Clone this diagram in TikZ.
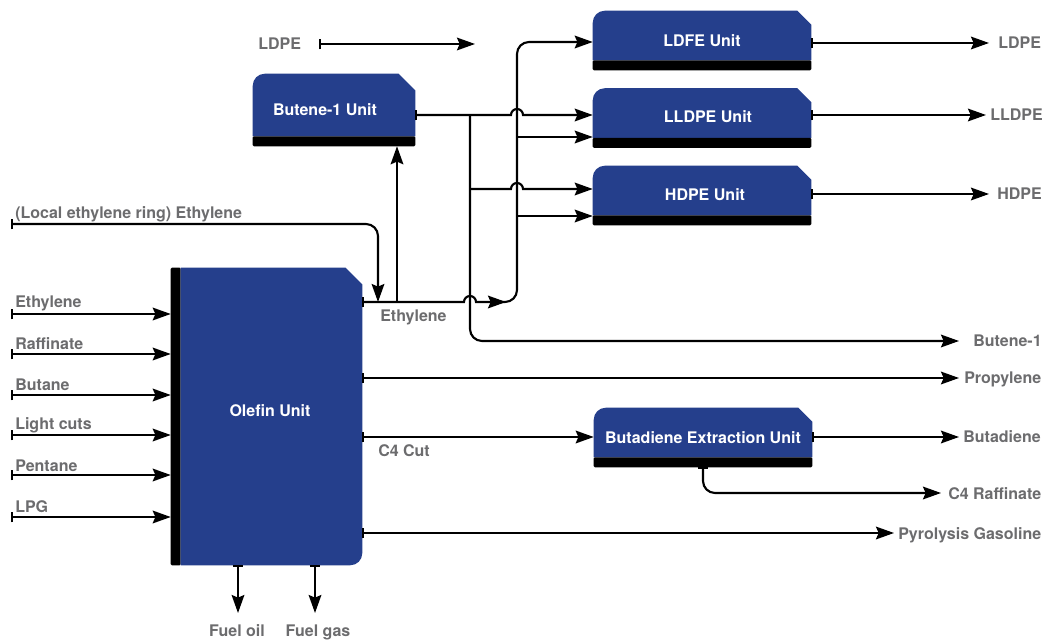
\documentclass[tikz,border=0pt]{standalone}
\usepackage{fontspec}
\setmainfont{TeX Gyre Heros}
\usetikzlibrary{arrows.meta,calc}
\pgfdeclarelayer{background}
\pgfsetlayers{background,main}
\definecolor{unitblue}{RGB}{37,63,140}
\definecolor{lblgray}{RGB}{108,108,110}
\newcommand\unitshape[3]{% name, cut, radius
  \fill[unitblue] ($(#1.south west)+(0pt,7.5pt)$) -- ($(#1.north west)+(0pt,-#3)$)
    arc[start angle=180,end angle=90,radius=#3]
    -- ($(#1.north east)+(-#2,0pt)$) -- ($(#1.north east)+(0pt,-#2)$)
    -- ($(#1.south east)+(0pt,7.5pt)$) -- cycle;
  \fill[black,rounded corners=0.8pt] ($(#1.south west)+(0pt,7.5pt)$) rectangle (#1.south east);
}
\begin{document}
\begin{tikzpicture}[x=0.75pt,y=-0.75pt,
  ln/.style={line width=1.6pt},
  flow/.style={line width=1.6pt,-{Stealth[length=13.5pt,width=9.5pt,inset=2pt]}},
  src/.style={line width=1.6pt,{Bar[width=8pt]}-{Stealth[length=13.5pt,width=9.5pt,inset=2pt]}},
  unitbox/.style={inner sep=0pt,text=white,font=\bfseries\fontsize{12}{14}\selectfont},
  lbl/.style={inner sep=0pt,text=lblgray,font=\bfseries\fontsize{12}{14}\selectfont,anchor=base west},
  lblc/.style={inner sep=0pt,text=lblgray,font=\bfseries\fontsize{12}{14}\selectfont,anchor=base},
]
\useasboundingbox (0,0) rectangle (1046,641);

% ---------- units ----------
\node[unitbox,minimum width=163.5pt,minimum height=44.25pt] (ldfe) at (702,40.5) {LDFE Unit};
\node[unitbox,minimum width=163.5pt,minimum height=44.25pt] (lldpe) at (702,118) {};
\node[unitbox] (lldpelbl) at (708,117) {LLDPE Unit};
\node[unitbox,minimum width=163.5pt,minimum height=44.25pt] (hdpe) at (702,195.5) {};
\node[unitbox] (hdpelbl) at (705,194.5) {HDPE Unit};
\node[unitbox,minimum width=163.5pt,minimum height=44.25pt] (butadiene) at (703,437.5) {Butadiene Extraction Unit};
\node[unitbox,minimum width=121.5pt,minimum height=54pt] (butene) at (334,110) {};
\node[unitbox] (butenelbl) at (325,109.5) {Butene-1 Unit};
\node[unitbox,minimum width=143.25pt,minimum height=222.75pt] (olefin) at (266.5,416.5) {};
\node[unitbox] (olefinlbl) at (270,410.5) {Olefin Unit};

\begin{pgfonlayer}{background}
  \unitshape{ldfe}{10.5pt}{9pt}
  \unitshape{lldpe}{10.5pt}{9pt}
  \unitshape{hdpe}{10.5pt}{9pt}
  \unitshape{butadiene}{10.5pt}{9pt}
  \unitshape{butene}{12.5pt}{9pt}
  \fill[black,rounded corners=0.8pt] (olefin.south west) rectangle ($(olefin.north west)+(7.5pt,0pt)$);
  \fill[unitblue] ($(olefin.south west)+(7.5pt,0pt)$) -- ($(olefin.north west)+(7.5pt,0pt)$)
    -- ($(olefin.north east)+(-12.5pt,0pt)$) -- ($(olefin.north east)+(0pt,-12.5pt)$)
    -- ($(olefin.south east)+(0pt,9pt)$) arc[start angle=0,end angle=-90,radius=9pt] -- cycle;
\end{pgfonlayer}

% ---------- labels ----------
\node[lbl] (tLDPEin) at (258,50) {LDPE};
\node[lbl] (tLDPE) at (998,49) {LDPE};
\node[lbl] (tLLDPE) at (990,121) {LLDPE};
\node[lbl] (tHDPE) at (997,200) {HDPE};
\node[lbl] (tLocal) at (15,219) {(Local ethylene ring) Ethylene};
\node[lbl] (tEthIn) at (15,308) {Ethylene};
\node[lbl] (tRaf) at (15,350) {Raffinate};
\node[lbl] (tBtn) at (15,391) {Butane};
\node[lbl] (tLight) at (15,430) {Light cuts};
\node[lbl] (tPent) at (15,471) {Pentane};
\node[lbl] (tLPG) at (15,512) {LPG};
\node[lbl] (tEthOut) at (380,322) {Ethylene};
\node[lbl] (tBut1) at (973,347) {Butene-1};
\node[lbl] (tProp) at (964,384) {Propylene};
\node[lbl] (tC4) at (378,456) {C4 Cut};
\node[lbl] (tBd) at (963,443) {Butadiene};
\node[lbl] (tC4R) at (948,499) {C4 Raffinate};
\node[lbl] (tPyr) at (898,539) {Pyrolysis Gasoline};
\node[lblc] (tFO) at (237,636) {Fuel oil};
\node[lblc] (tFG) at (318,636) {Fuel gas};

% ---------- free ends ----------
\coordinate (ldpeS) at (319,44);
\coordinate (ldpeE) at (475,44);
\coordinate (oLDPE) at (989,43);
\coordinate (oLLDPE) at (986,115);
\coordinate (oHDPE) at (989,194);
\coordinate (oBut) at (959,341);
\coordinate (oProp) at (959,378);
\coordinate (oBd) at (959,437);
\coordinate (oRaf) at (941,493);
\coordinate (oPyr) at (894,533);
\coordinate (oFO) at (238,613);
\coordinate (oFG) at (315,613);
\coordinate (locS) at (11,224);
\coordinate (locE) at (378,302);
\coordinate (iEth) at (11,314);
\coordinate (iRaf) at (11,354);
\coordinate (iBtn) at (11,395);
\coordinate (iLight) at (11,435);
\coordinate (iPent) at (11,475);
\coordinate (iLPG) at (11,517);

% ---------- connectors ----------
\draw[src] (ldpeS) -- (ldpeE);
\draw[src] (ldfe.east |- 0,43) -- (oLDPE);
\draw[src] (lldpe.east |- 0,115) -- (oLLDPE);
\draw[src] (hdpe.east |- 0,194) -- (oHDPE);

% Butene-1 output
\draw[src] (butene.east |- 0,115) -- (511,115) arc[start angle=180,end angle=0,radius=4.5pt] -- (lldpe.west |- 0,115);
\draw[flow,rounded corners=9pt] (470,115) -- (470,341) -- (oBut);
\draw[flow] (470,189) -- (511,189) arc[start angle=180,end angle=0,radius=4.5pt] -- (hdpe.west |- 0,189);

% Ethylene from olefin
\draw[src] (olefin.east |- 0,302) -- (464,302) arc[start angle=180,end angle=0,radius=4.5pt] -- (506,302);
\draw[flow,rounded corners=9pt] (496,302) -- (517,302) -- (517,42) -- (ldfe.west |- 0,42);
\draw[flow] (517,137) -- (lldpe.west |- 0,137);
\draw[flow] (517,216) -- (hdpe.west |- 0,216);
\draw[flow] (397,302) -- (butene.south -| 397,0);

% local ethylene ring
\draw[src,rounded corners=9pt] (locS) -- (378,224) -- (locE);

% inputs
\draw[src] (iEth) -- (olefin.west |- iEth);
\draw[src] (iRaf) -- (olefin.west |- iRaf);
\draw[src] (iBtn) -- (olefin.west |- iBtn);
\draw[src] (iLight) -- (olefin.west |- iLight);
\draw[src] (iPent) -- (olefin.west |- iPent);
\draw[src] (iLPG) -- (olefin.west |- iLPG);

% olefin outputs
\draw[src] (olefin.east |- 0,378) -- (oProp);
\draw[src] (olefin.east |- 0,437) -- (butadiene.west |- 0,437);
\draw[src] (olefin.east |- 0,533) -- (oPyr);
\draw[src] (olefin.south -| oFO) -- (oFO);
\draw[src] (olefin.south -| oFG) -- (oFG);

% butadiene outputs
\draw[src] (butadiene.east |- 0,437) -- (oBd);
\draw[src,rounded corners=9pt] (butadiene.south -| 703,0) -- (703,493) -- (oRaf);
\end{tikzpicture}
\end{document}
